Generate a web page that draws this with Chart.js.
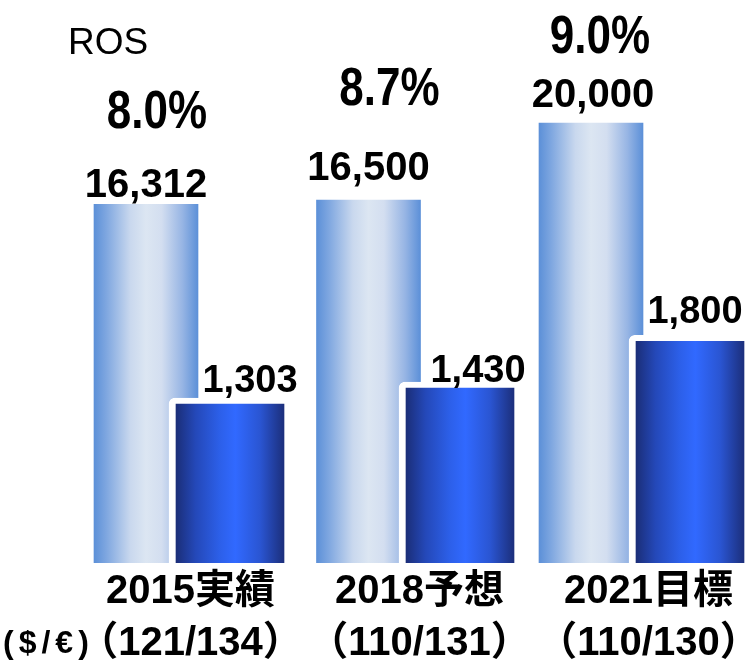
<!DOCTYPE html>
<html>
<head>
<meta charset="utf-8">
<script src="https://cdn.jsdelivr.net/npm/chart.js@4/dist/chart.umd.min.js"></script>
<style>
  html, body { margin: 0; padding: 0; background: #fff; }
  #wrap { width: 749px; height: 664px; position: relative; }
</style>
</head>
<body>
<div id="wrap"><canvas id="chart"></canvas></div>
<script>
// --- Data ---
const years = ['2015実績', '2018予想', '2021目標'];
const rates = ['（121/134）', '（110/131）', '（110/130）'];
const revenue = [16312, 16500, 20000];
const profit = [1303, 1430, 1800];
const ros = [8.0, 8.7, 9.0];

// --- Label nudges (layout only) ---
const revNudge = [[0, 7], [0, 20], [2, 16]];
const rosNudge = [[11, 76], [21, 95], [9, 70]];
const profNudge = [[20, 6], [18, 0], [5, 12]];

const LATIN = '"Liberation Sans", Arial, sans-serif';
const MIXED = '"Liberation Sans", "Noto Sans CJK JP", sans-serif';

function lightFill(ctx) {
    const chart = ctx.chart;
    if (!chart.chartArea || !ctx.raw) return '#6f9cdc';
    const cx = chart.scales.x.getPixelForValue(ctx.raw.x);
    const g = chart.ctx.createLinearGradient(cx - 52, 0, cx + 52, 0);
    g.addColorStop(0, '#5c90d8');
    g.addColorStop(0.12, '#7fa7e0');
    g.addColorStop(0.35, '#c9d8ee');
    g.addColorStop(0.5, '#dce6f2');
    g.addColorStop(0.65, '#d3def0');
    g.addColorStop(0.85, '#97b5e4');
    g.addColorStop(1, '#5c90d8');
    return g;
}

function darkFill(ctx) {
    const chart = ctx.chart;
    if (!chart.chartArea || !ctx.raw) return '#2a5ae0';
    const cx = chart.scales.x2.getPixelForValue(ctx.raw.x);
    const g = chart.ctx.createLinearGradient(cx - 54, 0, cx + 54, 0);
    g.addColorStop(0, '#1b2e78');
    g.addColorStop(0.18, '#2448b8');
    g.addColorStop(0.4, '#2c5fe8');
    g.addColorStop(0.55, '#3169ff');
    g.addColorStop(0.78, '#2a55d2');
    g.addColorStop(1, '#1c2f7c');
    return g;
}

// --- Text plugin: values, ROS, currency note ---
const textPlugin = {
    id: 'textLabels',
    afterDatasetsDraw(chart) {
        const c = chart.ctx;
        c.save();
        c.fillStyle = '#000';
        c.textAlign = 'center';
        c.textBaseline = 'alphabetic';

        const m0 = chart.getDatasetMeta(0);
        m0.data.forEach((bar, i) => {
            c.font = 'bold 40px ' + LATIN;
            c.fillText(revenue[i].toLocaleString('en-US'), bar.x + revNudge[i][0], bar.y - revNudge[i][1]);
            // ROS % is a tall narrow face in the source: stretch vertically
            c.save();
            c.translate(bar.x + rosNudge[i][0], bar.y - rosNudge[i][1]);
            c.scale(1, 1.2);
            c.font = 'bold 44px ' + LATIN;
            c.fillText(ros[i].toFixed(1) + '%', 0, 0);
            c.restore();
        });

        const m1 = chart.getDatasetMeta(1);
        m1.data.forEach((bar, i) => {
            c.font = 'bold 38px ' + LATIN;
            c.fillText(profit[i].toLocaleString('en-US'), bar.x + profNudge[i][0], bar.y - profNudge[i][1]);
        });

        c.textAlign = 'left';
        c.font = '37px ' + LATIN;
        c.fillText('ROS', 68, 54);

        // currency note before first rate label, on the same line
        const xt = chart.scales.xt;
        c.textBaseline = 'middle';
        c.font = 'bold 32px ' + LATIN;
        c.letterSpacing = '5px';
        c.fillText('($/€)', 3, xt.top + 3 + 52 * 1.5);
        c.restore();
    }
};

new Chart(document.getElementById('chart'), {
    type: 'bar',
    data: {
        datasets: [
            {
                label: '売上高',
                data: revenue.map((v, i) => ({ x: i, y: v })),
                xAxisID: 'x',
                yAxisID: 'y',
                backgroundColor: lightFill,
                barThickness: 104,
                borderWidth: 0,
                order: 2
            },
            {
                label: '営業利益',
                data: profit.map((v, i) => ({ x: i, y: v })),
                xAxisID: 'x2',
                yAxisID: 'y2',
                backgroundColor: darkFill,
                borderColor: '#ffffff',
                borderWidth: { top: 6, left: 7, right: 7, bottom: 0 },
                borderRadius: { topLeft: 6, topRight: 6, bottomLeft: 0, bottomRight: 0 },
                borderSkipped: 'bottom',
                barThickness: 122,
                order: 1
            }
        ]
    },
    options: {
        responsive: true,
        maintainAspectRatio: false,
        animation: false,
        layout: { padding: 0 },
        plugins: {
            legend: { display: false },
            tooltip: { enabled: false }
        },
        datasets: { bar: { grouped: false } },
        scales: {
            x: {
                type: 'linear', display: false, offset: false,
                min: -146 / 222.5, max: -146 / 222.5 + 749 / 222.5
            },
            x2: {
                type: 'linear', display: false, offset: false, axis: 'x',
                min: -1, max: -1 + 749 / 230
            },
            xt: {
                type: 'linear', position: 'bottom', axis: 'x', offset: false,
                min: -190.5 / 229, max: -190.5 / 229 + 749 / 229,
                grid: { display: false, drawTicks: false },
                border: { display: false },
                afterBuildTicks: scale => {
                    scale.ticks = years.map((_, i) => ({ value: i }));
                },
                afterFit: scale => {
                    scale.height = 101;
                    scale.paddingLeft = 0;
                    scale.paddingRight = 0;
                },
                ticks: {
                    autoSkip: false,
                    maxRotation: 0,
                    minRotation: 0,
                    padding: 3,
                    color: '#000',
                    font: { family: MIXED, size: 40, weight: 'bold', lineHeight: 1.3 },
                    callback: v => [years[v], rates[v]]
                }
            },
            y: { display: false, min: 0, max: 25600 },
            y2: { display: false, min: 0, max: 4450, position: 'right' }
        }
    },
    plugins: [textPlugin]
});
</script>
</body>
</html>
